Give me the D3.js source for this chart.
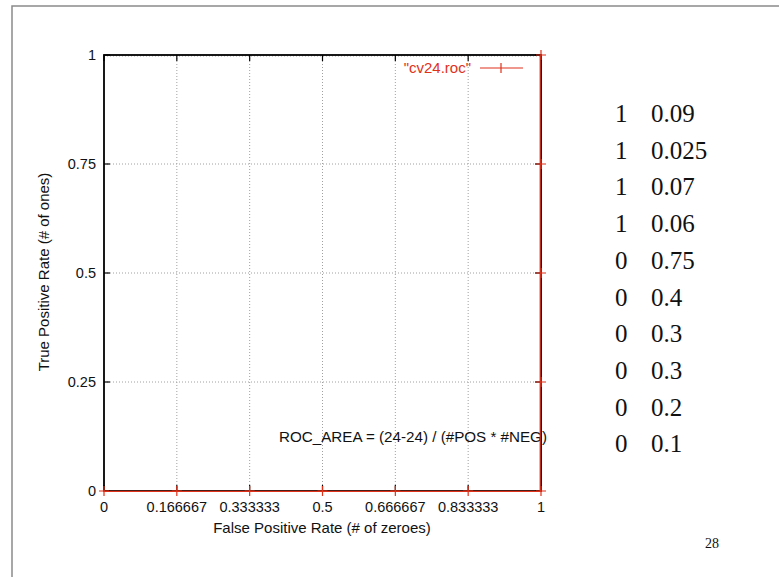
<!DOCTYPE html>
<html>
<head>
<meta charset="utf-8">
<script src="https://cdn.jsdelivr.net/npm/d3@7"></script>
<style>
  html, body { margin: 0; padding: 0; background: #fff; }
  svg { display: block; }
</style>
</head>
<body>
<svg id="chart" width="779" height="577"></svg>
<script>
// ROC curve points (false positive rate, true positive rate)
const fpr = [0, 1/6, 2/6, 3/6, 4/6, 5/6, 1, 1, 1, 1, 1];
const tpr = [0, 0, 0, 0, 0, 0, 0, 0.25, 0.5, 0.75, 1];

const xTicks = [0, 1/6, 2/6, 3/6, 4/6, 5/6, 1];
const xTickLabels = ["0", "0.166667", "0.333333", "0.5", "0.666667", "0.833333", "1"];
const yTicks = [0, 0.25, 0.5, 0.75, 1];
const yTickLabels = ["0", "0.25", "0.5", "0.75", "1"];

// Labelled examples listed beside the plot: class and score
const labels = [1, 1, 1, 1, 0, 0, 0, 0, 0, 0];
const scores = ["0.09", "0.025", "0.07", "0.06", "0.75", "0.4", "0.3", "0.3", "0.2", "0.1"];

const seriesName = "\"cv24.roc\"";
const areaNote = "ROC_AREA = (24-24) / (#POS * #NEG)";
const pageNumber = "28";

const svg = d3.select("#chart");
const sans = "'Liberation Sans', Arial, Helvetica, sans-serif";
const serif = "'Liberation Serif', 'Times New Roman', serif";
const red = "#e0311a";

// page frame
svg.append("path")
  .attr("d", "M12,600 L12,6 L800,6")
  .attr("fill", "none").attr("stroke", "#8a8a8a").attr("stroke-width", 1.5);

const L = 104, R = 541, T = 55, B = 491;
const x = d3.scaleLinear().domain([0, 1]).range([L, R]);
const y = d3.scaleLinear().domain([0, 1]).range([B, T]);

// grid
const grid = svg.append("g").attr("stroke", "#a0a0a0").attr("stroke-width", 1)
  .attr("stroke-dasharray", "1,2");
xTicks.slice(1, -1).forEach(t => {
  grid.append("line").attr("x1", x(t)).attr("x2", x(t)).attr("y1", T).attr("y2", B);
});
yTicks.slice(1, -1).forEach(t => {
  grid.append("line").attr("x1", L).attr("x2", R).attr("y1", y(t)).attr("y2", y(t));
});
grid.append("line").attr("x1", L).attr("x2", R).attr("y1", T + 1).attr("y2", T + 1);

// inward ticks on all four sides
const tickLen = 6;
const axes = svg.append("g").attr("stroke", "#000").attr("stroke-width", 1.2);
xTicks.forEach(t => {
  axes.append("line").attr("x1", x(t)).attr("x2", x(t)).attr("y1", B).attr("y2", B - tickLen);
  axes.append("line").attr("x1", x(t)).attr("x2", x(t)).attr("y1", T).attr("y2", T + tickLen);
});
yTicks.forEach(t => {
  axes.append("line").attr("x1", L).attr("x2", L + tickLen).attr("y1", y(t)).attr("y2", y(t));
  axes.append("line").attr("x1", R).attr("x2", R - tickLen).attr("y1", y(t)).attr("y2", y(t));
});

// plot border
svg.append("rect").attr("x", L).attr("y", T).attr("width", R - L).attr("height", B - T)
  .attr("fill", "none").attr("stroke", "#000").attr("stroke-width", 1.8);

// tick labels
svg.append("g").selectAll("text").data(xTicks).join("text")
  .attr("x", d => x(d)).attr("y", 512)
  .attr("text-anchor", "middle")
  .attr("font-family", sans).attr("font-size", 14.5).attr("fill", "#111")
  .text((d, i) => xTickLabels[i]);
svg.append("g").selectAll("text").data(yTicks).join("text")
  .attr("x", 96).attr("y", d => y(d) + 5)
  .attr("text-anchor", "end")
  .attr("font-family", sans).attr("font-size", 14.5).attr("fill", "#111")
  .text((d, i) => yTickLabels[i]);

// axis titles
svg.append("text").attr("x", 322).attr("y", 533).attr("text-anchor", "middle")
  .attr("font-family", sans).attr("font-size", 15).attr("fill", "#111")
  .text("False Positive Rate (# of zeroes)");
svg.append("text").attr("transform", "translate(49,272) rotate(-90)")
  .attr("text-anchor", "middle")
  .attr("font-family", sans).attr("font-size", 15).attr("fill", "#111")
  .text("True Positive Rate (# of ones)");

// note inside the plot
svg.append("text").attr("x", 279).attr("y", 442)
  .attr("font-family", sans).attr("font-size", 15.2).attr("fill", "#111")
  .text(areaNote);

// ROC curve
const pts = fpr.map((f, i) => [f, tpr[i]]);
svg.append("path").datum(pts)
  .attr("d", d3.line().x(d => x(d[0]) - 0.8).y(d => y(d[1]) + 0.4))
  .attr("fill", "none").attr("stroke", red).attr("stroke-width", 1.2);
const cross = 5;
svg.append("g").attr("stroke", red).attr("stroke-width", 1.2)
  .selectAll("path").data(pts).join("path")
  .attr("d", d => {
    const cx = x(d[0]), cy = y(d[1]);
    return `M${cx - cross},${cy}H${cx + cross}M${cx},${cy - cross}V${cy + cross}`;
  });

// legend
svg.append("text").attr("x", 471).attr("y", 73).attr("text-anchor", "end")
  .attr("font-family", sans).attr("font-size", 15).attr("fill", red)
  .text(seriesName);
svg.append("line").attr("x1", 480).attr("x2", 523).attr("y1", 68).attr("y2", 68)
  .attr("stroke", red).attr("stroke-width", 1.2);
svg.append("line").attr("x1", 501).attr("x2", 501).attr("y1", 63).attr("y2", 73)
  .attr("stroke", red).attr("stroke-width", 1.2);

// example table
const rowY = i => 122 + i * 36.7;
const table = svg.append("g").attr("font-family", serif).attr("font-size", 25).attr("fill", "#111");
table.selectAll("text.lab").data(labels).join("text").attr("class", "lab")
  .attr("x", 615).attr("y", (d, i) => rowY(i)).text(d => d);
table.selectAll("text.score").data(scores).join("text").attr("class", "score")
  .attr("x", 651).attr("y", (d, i) => rowY(i)).text(d => d);

// page number
svg.append("text").attr("x", 705).attr("y", 548)
  .attr("font-family", serif).attr("font-size", 14).attr("fill", "#111")
  .text(pageNumber);
</script>
</body>
</html>
